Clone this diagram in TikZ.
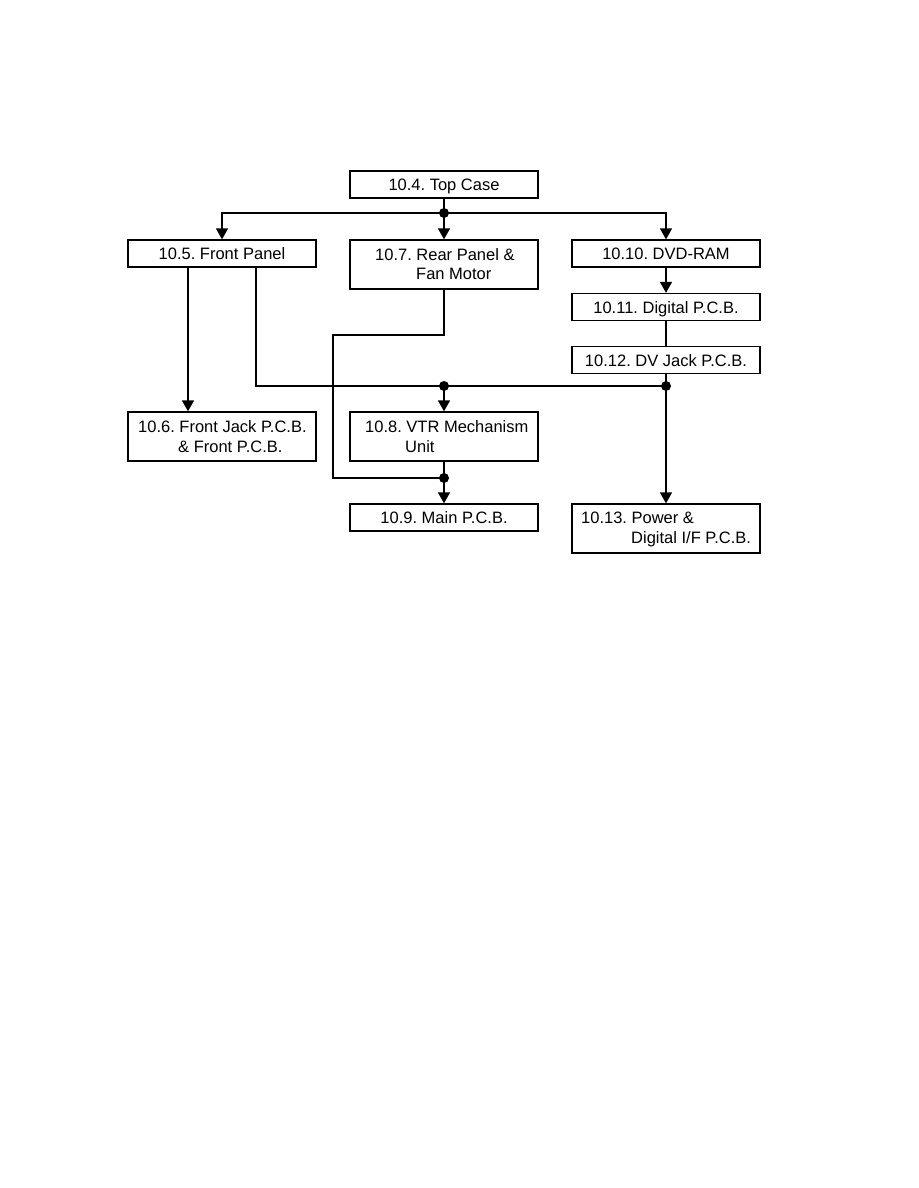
\documentclass[tikz,border=0pt]{standalone}
\usepackage{fontspec}
\setmainfont{Liberation Sans}
\usetikzlibrary{arrows.meta}
\begin{document}
\frenchspacing
\begin{tikzpicture}[x=1pt,y=-1pt,
  lbl/.style={font=\fontsize{16.5}{19}\selectfont\frenchspacing},
  box/.style={draw, line width=1.3pt, minimum width=188pt, inner sep=0pt, lbl},
  one/.style={box, minimum height=27pt, text height=12pt, text depth=0pt},
  two/.style={box, minimum height=49pt},
  txt/.style={anchor=base west, inner sep=0pt, lbl},
  conn/.style={line width=1.3pt},
  arr/.style={conn, -{Triangle[length=11pt,width=12pt]}},
  jdot/.style={circle, fill, inner sep=0pt, minimum size=10pt}]
\useasboundingbox (0,0) rectangle (918,1188);
% boxes
\node[one] (top) at (444,184.5) {10.4. Top Case};
\node[one] (front) at (222,253.5) {10.5. Front Panel};
\node[two] (rear) at (444,264.5) {};
\node[one] (dvd) at (666,253.5) {10.10. DVD-RAM};
\node[one] (dig) at (666,307) {10.11. Digital P.C.B.};
\node[one] (dvj) at (666,360) {10.12. DV Jack P.C.B.};
\node[two] (fjack) at (222,436.5) {};
\node[two] (vtr) at (444,436.5) {};
\node[one] (main) at (444,517.5) {10.9. Main P.C.B.};
\node[two] (power) at (666,528.5) {};
% two-line texts
\node[txt] (rear1) at (375,260) {10.7. Rear Panel \&};
\node[txt] (rear2) at (416,279) {Fan Motor};
\node[txt] (fj1) at (138,432) {10.6. Front Jack P.C.B.};
\node[txt] (fj2) at (178,452) {\& Front P.C.B.};
\node[txt] (vtr1) at (365,432) {10.8. VTR Mechanism};
\node[txt] (vtr2) at (405,452) {Unit};
\node[txt] (pw1) at (581,523) {10.13. Power \&};
\node[txt] (pw2) at (631,543) {Digital I/F P.C.B.};
% junctions
\coordinate (j1) at (444,213);
\coordinate (j2) at (444,386);
\coordinate (j3) at (666,386);
\coordinate (j4) at (444,478);
\coordinate (b1) at (444,335);
\coordinate (b2) at (333,335);
\coordinate (b3) at (333,478);
% connectors
\draw[conn] (top.south) -- (j1);
\draw[arr] (j1) -- (rear.north);
\draw[arr] (j1) -| (front.north);
\draw[arr] (j1) -| (dvd.north);
\draw[arr] (dvd.south) -- (dig.north);
\draw[conn] (dig.south) -- (dvj.north);
\draw[arr] ([xshift=-34pt]front.south) -- ([xshift=-34pt]fjack.north);
\draw[conn] ([xshift=34pt]front.south) |- (j3);
\draw[arr] (j2) -- (vtr.north);
\draw[conn] (dvj.south) -- (j3);
\draw[arr] (j3) -- (power.north);
\draw[conn] (rear.south) -- (b1) -- (b2) -- (b3) -- (j4);
\draw[conn] (vtr.south) -- (j4);
\draw[arr] (j4) -- (main.north);
% dots
\node[jdot] (d1) at (j1) {};
\node[jdot] (d2) at (j2) {};
\node[jdot] (d3) at (j3) {};
\node[jdot] (d4) at (j4) {};
\end{tikzpicture}
\end{document}
